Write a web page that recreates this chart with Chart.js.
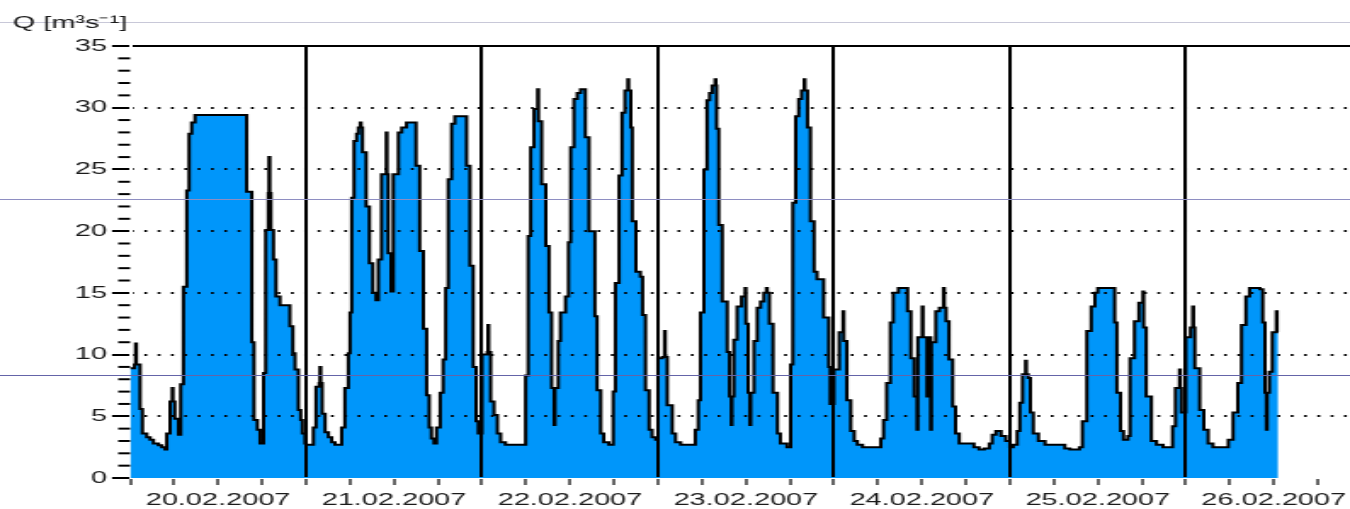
<!DOCTYPE html>
<html>
<head>
<meta charset="utf-8">
<title>Q 20.–26.02.2007</title>
<script src="https://cdn.jsdelivr.net/npm/chart.js@4.4.1/dist/chart.umd.min.js"></script>
<style>
  html, body { margin: 0; padding: 0; background: #fff; overflow: hidden; }
  /* the source plot is a horizontally stretched bitmap, so the canvas is too */
  #chart { display: block; width: 1350px; height: 509px; }
</style>
</head>
<body>
<canvas id="chart" width="794" height="509" style="width:1350px;height:509px"></canvas>
<script>
/* ===== Data: discharge Q [m³/s], one array per day ===== */
// [hour of day, Q] – each value holds until the next pair (step plot)
const d20 = [[0, 8.9], [0.6, 9.2], [0.75, 10.9], [0.85, 9.2], [1.36, 5.6], [1.68, 3.6], [2.27, 3.3], [2.73, 3.1],
  [3.18, 2.8], [3.86, 2.65], [4.32, 2.5], [4.77, 2.3], [5.0, 3.6], [5.45, 6.2], [5.75, 7.3], [5.85, 6.2], [6.1, 4.8],
  [6.6, 3.5], [6.9, 7.6], [7.27, 15.5], [7.73, 23.3], [8.05, 27.9], [8.4, 28.8], [8.86, 29.4], [15.9, 23.2],
  [16.6, 11.0], [16.9, 4.7], [17.36, 3.9], [17.73, 2.8], [18.2, 8.5], [18.5, 20.1], [18.86, 23.1], [18.95, 26.0],
  [19.05, 23.1], [19.2, 20.1], [19.55, 17.7], [19.9, 14.7], [20.45, 14.0], [21.8, 12.3], [22.2, 10.1], [22.5, 8.8],
  [22.95, 5.5], [23.27, 4.7], [23.5, 3.6], [23.86, 2.8]];
const d21 = [[0, 2.7], [1.0, 4.1], [1.36, 7.4], [1.8, 7.7], [1.9, 9.0], [2.0, 7.7], [2.2, 5.2], [2.6, 3.7], [3.05, 3.3],
  [3.5, 2.9], [3.95, 2.7], [4.86, 4.1], [5.3, 7.3], [5.77, 10.1], [6.0, 13.4], [6.23, 22.7], [6.55, 27.3], [6.9, 27.9],
  [7.14, 28.4], [7.4, 28.8], [7.5, 28.4], [7.7, 26.4], [8.2, 22.0], [8.64, 17.4], [9.1, 15.0], [9.55, 14.4],
  [9.86, 17.7], [10.3, 24.6], [10.95, 28.0], [11.05, 24.6], [11.2, 18.2], [11.6, 15.1], [11.9, 24.6], [12.6, 28.0],
  [13.05, 28.4], [13.7, 28.8], [15.0, 25.3], [15.5, 18.4], [16.0, 12.1], [16.45, 6.7], [16.8, 4.1], [17.1, 3.2],
  [17.45, 2.8], [17.8, 4.1], [18.3, 6.9], [18.7, 9.6], [19.05, 15.4], [19.4, 24.2], [19.86, 28.7], [20.3, 29.3],
  [21.9, 25.3], [22.36, 17.2], [22.8, 9.0], [23.2, 4.6], [23.5, 3.6]];
const d22 = [[0, 10.0], [0.73, 10.2], [0.82, 12.4], [0.92, 10.2], [1.18, 6.2], [1.64, 5.1], [2.1, 3.6], [2.55, 2.9],
  [3.2, 2.7], [5.95, 8.3], [6.3, 19.6], [6.64, 26.8], [7.1, 29.9], [7.6, 31.5], [7.7, 28.9], [8.14, 23.8], [8.7, 18.8],
  [9.14, 13.4], [9.5, 7.3], [9.85, 4.3], [9.95, 7.3], [10.4, 11.1], [10.7, 13.4], [11.4, 14.7], [11.8, 19.1],
  [12.1, 26.8], [12.55, 30.7], [13.0, 31.2], [13.45, 31.5], [14.1, 27.6], [14.6, 20.0], [15.4, 13.1], [15.7, 7.1],
  [16.2, 3.6], [16.6, 2.9], [17.3, 2.7], [17.9, 7.0], [18.2, 15.8], [18.7, 24.5], [19.1, 29.6], [19.5, 31.4],
  [19.9, 32.3], [20.0, 31.4], [20.3, 28.4], [20.5, 20.8], [21.0, 16.7], [21.6, 16.3], [21.9, 13.2], [22.3, 7.1],
  [22.8, 3.9], [23.2, 3.3], [23.7, 3.1]];
const d23 = [[0, 9.7], [0.6, 9.8], [0.9, 11.9], [1.0, 9.8], [1.27, 5.9], [1.95, 3.6], [2.4, 2.9], [3.1, 2.7], [5.1, 3.9],
  [5.5, 6.3], [5.8, 13.4], [6.27, 25.0], [6.7, 30.6], [7.05, 31.2], [7.4, 31.8], [7.8, 32.3], [7.9, 31.8], [8.0, 28.3],
  [8.3, 20.5], [8.77, 14.3], [9.45, 10.2], [9.77, 6.6], [10.0, 4.3], [10.1, 6.6], [10.36, 11.2], [10.8, 13.9],
  [11.4, 14.7], [11.9, 15.4], [12.0, 12.5], [12.3, 6.9], [12.55, 4.3], [12.65, 6.9], [13.1, 11.1], [13.55, 13.8],
  [14.0, 14.3], [14.45, 15.0], [14.8, 15.4], [14.9, 15.0], [15.2, 12.5], [15.7, 6.9], [16.3, 3.6], [16.7, 2.8],
  [17.6, 2.5], [18.1, 9.2], [18.4, 22.3], [18.8, 29.3], [19.2, 30.7], [19.6, 31.4], [19.95, 32.3], [20.05, 31.4],
  [20.4, 28.4], [20.8, 20.8], [21.3, 16.7], [21.7, 16.1], [22.6, 13.0], [23.3, 9.0], [23.5, 6.0]];
const d24 = [[0, 8.8], [0.73, 11.8], [1.25, 13.5], [1.35, 11.1], [1.77, 6.3], [2.3, 3.8], [2.77, 3.0], [3.2, 2.7],
  [3.9, 2.5], [6.4, 3.2], [6.77, 4.7], [7.2, 7.7], [7.7, 12.6], [8.1, 15.0], [8.8, 15.4], [10.05, 13.5], [10.5, 9.7],
  [10.95, 6.6], [11.35, 3.9], [11.45, 11.4], [12.05, 13.9], [12.15, 11.4], [12.7, 6.6], [13.0, 11.4], [13.2, 3.9],
  [13.3, 11.0], [13.9, 13.5], [14.4, 13.8], [14.95, 15.4], [15.05, 13.8], [15.3, 12.7], [15.7, 9.6], [16.2, 5.8],
  [16.6, 3.6], [17.1, 2.8], [19.1, 2.5], [19.8, 2.3], [20.5, 2.4], [21.2, 2.8], [21.6, 3.5], [22.1, 3.8], [22.8, 3.4],
  [23.45, 3.0]];
const d25 = [[0, 2.5], [0.45, 2.7], [1.0, 3.8], [1.36, 6.1], [1.73, 8.4], [2.15, 9.5], [2.25, 8.4], [2.5, 8.1],
  [2.8, 5.3], [3.2, 3.6], [3.9, 3.0], [4.8, 2.7], [7.5, 2.4], [8.2, 2.3], [9.5, 2.5], [9.9, 4.6], [10.5, 11.9],
  [11.1, 13.9], [11.6, 15.0], [12.0, 15.4], [14.3, 12.6], [14.6, 6.9], [15.1, 3.8], [15.5, 3.1], [16.1, 3.4],
  [16.4, 9.7], [17.0, 12.7], [17.6, 14.2], [18.15, 15.1], [18.25, 12.2], [18.6, 6.6], [19.3, 3.0], [20.0, 2.7],
  [20.9, 2.5], [22.2, 4.2], [22.6, 7.3], [23.15, 8.8], [23.25, 7.3], [23.4, 5.3]];
const d26 = [[0, 11.4], [0.64, 12.2], [0.95, 13.9], [1.05, 12.2], [1.23, 8.9], [1.9, 5.5], [2.45, 3.9], [3.05, 2.8],
  [3.7, 2.5], [5.8, 3.1], [6.45, 5.3], [7.1, 7.7], [7.6, 12.4], [8.2, 14.7], [8.7, 15.4], [10.1, 15.3], [10.5, 12.6],
  [10.8, 6.9], [11.0, 3.9], [11.1, 6.9], [11.4, 8.6], [11.8, 11.8], [12.35, 13.5], [12.45, 11.8], [12.6, 11.8]];

const DAYS     = ['20.02.2007', '21.02.2007', '22.02.2007', '23.02.2007', '24.02.2007', '25.02.2007', '26.02.2007'];
const DAY_DATA = [d20, d21, d22, d23, d24, d25, d26];
const Y_MIN = 0, Y_MAX = 35, Y_STEP = 5;
const HOURS_SHOWN = 166.4;   // plot is cut at the right edge mid-day
const UNIT_LABEL = 'Q [m³s⁻¹]';

/* ===== Build points (x = hours since 20.02. 00:00) ===== */
const points = [];
DAY_DATA.forEach((day, i) => {
  day.forEach(([h, q]) => points.push({ x: i * 24 + h, y: q }));
});

const FONT  = '"Liberation Sans", Arial, sans-serif';
const INK   = '#1a1a1a';
const CLEAR = 'rgba(0,0,0,0)';

/* ===== Extras: minor ticks, unit label, scan rules ===== */
const extras = {
  id: 'extras',
  beforeDraw(chart) {
    const { ctx } = chart;
    ctx.save();
    ctx.fillStyle = '#fff';
    ctx.fillRect(0, 0, chart.width, chart.height);
    ctx.restore();
  },
  afterDraw(chart) {
    const { ctx, chartArea: a, scales: { y } } = chart;
    ctx.save();
    ctx.strokeStyle = '#000';
    ctx.lineWidth = 2;
    for (let v = Y_MIN; v <= Y_MAX; v++) {
      if (v % Y_STEP === 0) {continue;}
      const py = y.getPixelForValue(v);
      ctx.beginPath();
      ctx.moveTo(a.left - 7, py);
      ctx.lineTo(a.left, py);
      ctx.stroke();
    }

    // keep the strip left of the labels clean
    ctx.fillStyle = '#fff';
    ctx.fillRect(0, 0, 5, chart.height);
    ctx.fillRect(0, 0, chart.width, 3);

    // faint horizontal rules that run across the whole scanned picture
    ctx.fillStyle = '#c8c8d8';
    ctx.fillRect(0, 22, chart.width, 1);
    ctx.fillStyle = '#8e8ec2';
    ctx.fillRect(0, 199, chart.width, 1);
    ctx.fillStyle = '#6464a8';
    ctx.fillRect(0, 375, chart.width, 1);

    ctx.fillStyle = INK;
    ctx.font = `17px ${FONT}`;
    ctx.textBaseline = 'alphabetic';
    ctx.textAlign = 'left';
    ctx.fillText(UNIT_LABEL, 7.5, 27.5);
    ctx.restore();
  }
};

/* ===== Chart ===== */
Chart.defaults.font.family = FONT;
Chart.defaults.font.size = 17;
Chart.defaults.color = INK;

new Chart(document.getElementById('chart'), {
  type: 'line',
  data: {
    datasets: [{
      data: points,
      stepped: true,
      fill: 'origin',
      backgroundColor: '#0096fa',
      borderColor: '#000',
      borderWidth: 2,
      pointRadius: 0,
      tension: 0,
    }],
  },
  options: {
    responsive: false,
    devicePixelRatio: 1,
    animation: false,
    events: [],
    layout: { padding: { top: 46, right: 0, bottom: 0, left: 0 } },
    plugins: { legend: { display: false }, tooltip: { enabled: false } },
    scales: {
      x: {
        type: 'linear',
        min: 0,
        max: HOURS_SHOWN,
        afterFit: s => { s.height = 31; },
        ticks: {
          stepSize: 6,
          includeBounds: false,
          autoSkip: false,
          maxRotation: 0,
          minRotation: 0,
          padding: 5,
          callback: v => (v % 24 === 12 ? DAYS[(v - 12) / 24] : ''),
        },
        grid: {
          z: 1,
          color: c => (c.tick && c.tick.value % 24 === 0 && c.tick.value > 0 ? '#000' : CLEAR),
          lineWidth: 2,
          tickColor: '#000',
          tickLength: 7,
          tickWidth: 1.2,
        },
        border: { display: true, color: '#000', width: 2 },
      },
      y: {
        min: Y_MIN,
        max: Y_MAX,
        afterFit: s => { s.width = 76.5; },
        ticks: { stepSize: Y_STEP, padding: 3 },
        grid: {
          z: 1,
          color: c => (c.tick && c.tick.value > Y_MIN ? '#000' : CLEAR),
          lineWidth: 2,
          tickColor: '#000',
          tickLength: 10.6,
          tickWidth: 2,
        },
        border: {
          display: true,
          color: '#000',
          width: 2,
          dash: c => (c.tick && c.tick.value === Y_MAX ? [] : [1.6, 6.24]),
          dashOffset: 0.94,
        },
      },
    },
  },
  plugins: [extras],
});
</script>
</body>
</html>
